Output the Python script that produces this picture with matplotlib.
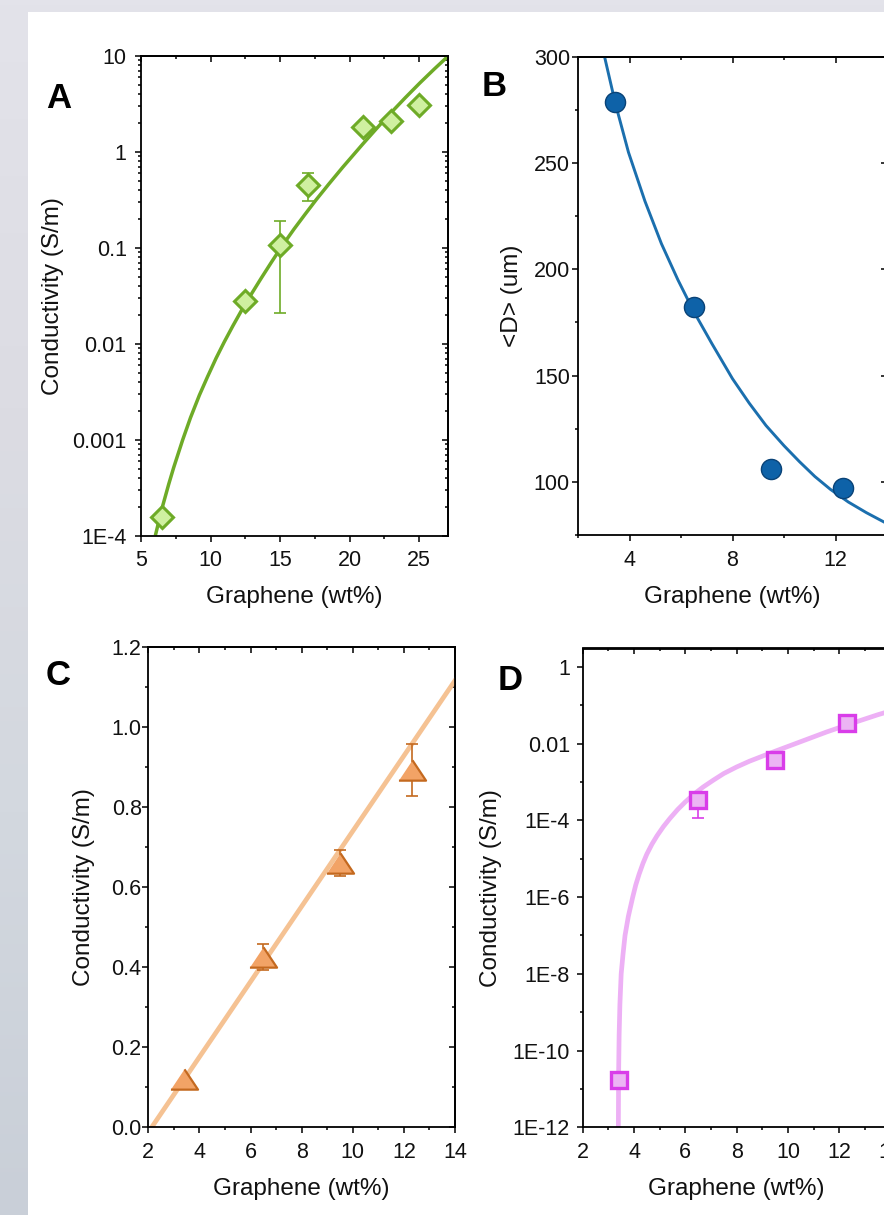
import numpy as np
import matplotlib
matplotlib.use("Agg")
import matplotlib.pyplot as plt
from matplotlib.ticker import FixedLocator, FixedFormatter, NullFormatter
from matplotlib.patches import Rectangle
from matplotlib.colors import LinearSegmentedColormap

plt.rcParams['font.family'] = ['Liberation Sans', 'DejaVu Sans']

# ---------------- data ----------------
# Panel A
a_x = [6.5, 12.5, 15.0, 17.0, 21.0, 23.0, 25.0]
a_y = [1.57e-4, 0.028, 0.106, 0.457, 1.80, 2.10, 3.10]
a_err = [0.0, 0.0, 0.085, 0.15, 0.0, 0.0, 0.0]
a_fit_x = [6.03, 6.5, 7.0, 7.35, 8.0, 8.56, 9.2, 9.78, 10.4, 10.99, 11.6, 12.2, 12.9,
           13.65, 14.4, 15.1, 16.0, 16.8, 17.6, 18.5, 19.5, 20.93, 21.9, 22.87, 24.0,
           25.05, 26.1, 27.1]
a_fit_log10 = [-4.0, -3.72, -3.46, -3.29, -3.0, -2.77, -2.535, -2.345, -2.15, -1.98,
               -1.815, -1.66, -1.49, -1.315, -1.145, -0.99, -0.805, -0.65, -0.498,
               -0.336, -0.161, 0.079, 0.237, 0.392, 0.564, 0.718, 0.865, 1.0]
a_yticks = [1e-4, 1e-3, 1e-2, 1e-1, 1, 10]
a_yticklabels = ['1E-4', '0.001', '0.01', '0.1', '1', '10']
a_xticks = [5, 10, 15, 20, 25]

# Panel B
b_x = [3.45, 6.5, 9.5, 12.3]
b_y = [278.6, 182.2, 106.0, 97.2]
b_fit_x = [2.95, 3.03, 3.45, 3.96, 4.6, 5.24, 5.88, 6.5, 7.2, 8.0, 8.65, 9.3, 10.0,
           10.6, 11.2, 11.8, 12.5, 13.2, 13.9, 14.0]
b_fit_y = [304, 300, 278, 255, 232, 212, 195, 180, 165, 148.5, 137, 126.5, 117,
           109.5, 102.5, 96.5, 90.5, 85.5, 81, 80.4]
b_xticks = [4, 8, 12]
b_yticks = [100, 150, 200, 250, 300]

# Panel C
c_x = [3.4, 6.5, 9.5, 12.3]
c_y = [0.12, 0.426, 0.661, 0.894]
c_err = [0.0, 0.033, 0.032, 0.065]
c_fit_x = [2.13, 14.0]
c_fit_y = [0.0, 1.117]
c_xticks = [2, 4, 6, 8, 10, 12, 14]
c_yticks = [0.0, 0.2, 0.4, 0.6, 0.8, 1.0, 1.2]
c_yticklabels = ['0.0', '0.2', '0.4', '0.6', '0.8', '1.0', '1.2']

# Panel D
d_x = [3.4, 6.5, 9.5, 12.3]
d_y = [1.7e-11, 3.3e-4, 3.7e-3, 0.034]
d_err = [0.0, 2.15e-4, 0.0, 0.0]
d_fit_x = [3.39, 3.40, 3.42, 3.45, 3.50, 3.57, 3.65, 3.78, 3.95, 4.07, 4.2, 4.35, 4.5,
           4.7, 4.9, 5.15, 5.4, 5.7, 6.0, 6.35, 6.7, 7.1, 7.5, 8.0, 8.5, 9.0, 9.5,
           10.5, 11.5, 12.5, 13.5, 14.0]
d_fit_log10 = [-12.0, -10.6, -9.6, -8.8, -8.0, -7.5, -7.0, -6.5, -6.0, -5.68, -5.4,
               -5.12, -4.88, -4.62, -4.40, -4.16, -3.95, -3.72, -3.52, -3.31, -3.13,
               -2.95, -2.78, -2.61, -2.46, -2.33, -2.2, -1.95, -1.7, -1.47, -1.25, -1.15]
d_xticks = [2, 4, 6, 8, 10, 12, 14]
d_yticks = [1e-12, 1e-10, 1e-8, 1e-6, 1e-4, 1e-2, 1]
d_yticklabels = ['1E-12', '1E-10', '1E-8', '1E-6', '1E-4', '0.01', '1']
d_yminor = [1e-11, 1e-9, 1e-7, 1e-5, 1e-3, 1e-1]

xlabel = 'Graphene (wt%)'
cond_label = 'Conductivity (S/m)'
d_label = '<D> (um)'

# ---------------- figure ----------------
W, H = 884, 1215
fig = plt.figure(figsize=(W / 100, H / 100), dpi=100)

# background (blurred photo look) + white panel
bg = fig.add_axes([0, 0, 1, 1], zorder=-10)
cmap = LinearSegmentedColormap.from_list('bg', ['#e3e3ea', '#dcdce3', '#d3d8df', '#c9cfd8'])
grad = np.linspace(0, 1, 256).reshape(-1, 1)
bg.imshow(grad, cmap=cmap, aspect='auto', extent=[0, 1, 0, 1], origin='upper')
bg.add_patch(Rectangle((28 / W, 0), 1, 1 - 12 / H, transform=bg.transAxes,
                       facecolor='white', edgecolor='none'))
bg.set_xlim(0, 1); bg.set_ylim(0, 1)
bg.axis('off')


def rect(l, r, t, b):
    return [l / W, 1 - b / H, (r - l) / W, (b - t) / H]


def style(ax, xmajor, xminor, ymajor, yminor, ylabelpad, xlabelpad=6.5):
    for s in ax.spines.values():
        s.set_linewidth(1.3)
    ax.xaxis.set_major_locator(FixedLocator(xmajor))
    ax.xaxis.set_minor_locator(FixedLocator(xminor))
    ax.yaxis.set_major_locator(FixedLocator(ymajor))
    ax.yaxis.set_minor_locator(FixedLocator(yminor))
    ax.tick_params(which='both', direction='out', width=1.1, labelsize=15.5,
                   top=False, right=False, labelcolor='#111111')
    ax.tick_params(which='major', length=4)
    ax.tick_params(which='minor', length=2.2)
    ax.tick_params(axis='y', which='both', pad=ylabelpad)
    ax.tick_params(axis='x', which='both', pad=xlabelpad)
    sx = ax.secondary_xaxis('top')
    sx.xaxis.set_major_locator(FixedLocator(xmajor))
    sx.xaxis.set_minor_locator(FixedLocator(xminor))
    sx.tick_params(which='both', direction='in', width=1.1, labeltop=False)
    sx.tick_params(which='major', length=4)
    sx.tick_params(which='minor', length=2.2)
    sy = ax.secondary_yaxis('right')
    sy.yaxis.set_major_locator(FixedLocator(ymajor))
    sy.yaxis.set_minor_locator(FixedLocator(yminor))
    sy.tick_params(which='both', direction='in', width=1.1, labelright=False)
    sy.tick_params(which='major', length=4)
    sy.tick_params(which='minor', length=2.2)
    for s in list(sx.spines.values()) + list(sy.spines.values()):
        s.set_linewidth(1.3)


def labels(ax, xl, yl, xly, ylx):
    ax.set_xlabel(xl, fontsize=17.5, color='#111111')
    ax.set_ylabel(yl, fontsize=17.5, color='#111111')
    ax.xaxis.set_label_coords(0.5, xly)
    ax.yaxis.set_label_coords(ylx, 0.5)
    ax.xaxis.label.set_va('center')
    ax.yaxis.label.set_va('center')


def sel(x, y, e):
    xs = [a for a, k in zip(x, e) if k > 0]
    ys = [a for a, k in zip(y, e) if k > 0]
    es = [k for k in e if k > 0]
    return xs, ys, es


# ---- Panel A ----
axA = fig.add_axes(rect(141, 448, 56, 535.7))
axA.set_yscale('log')
axA.set_xlim(5, 27.08)
axA.set_ylim(1e-4, 10)
a_minor_y = [m * 10.0 ** k for k in range(-4, 1) for m in range(2, 10)]
style(axA, a_xticks, [7.5, 12.5, 17.5, 22.5], a_yticks, a_minor_y, ylabelpad=6.3)
axA.yaxis.set_major_formatter(FixedFormatter(a_yticklabels))
axA.yaxis.set_minor_formatter(NullFormatter())
gA = '#6eab27'
axA.plot(a_fit_x, np.power(10.0, a_fit_log10), color=gA, lw=2.5, zorder=1,
         solid_capstyle='butt')
ex, ey, ee = sel(a_x, a_y, a_err)
axA.errorbar(ex, ey, yerr=ee, fmt='none', ecolor=gA, elinewidth=1.2, capsize=4,
             capthick=1.2, zorder=2)
axA.plot(a_x, a_y, ls='none', marker='D', ms=11.5, mfc='#cff0a0', mec=gA, mew=2.2,
         zorder=3, clip_on=False)
labels(axA, xlabel, cond_label, (535.7 - 597) / (535.7 - 56), (53 - 141) / (448 - 141))

# ---- Panel B ----
axB = fig.add_axes(rect(578, 887, 56.6, 535))
axB.set_xlim(2, 14)
axB.set_ylim(75, 300)
style(axB, b_xticks, [2, 6, 10, 14], b_yticks, [75, 125, 175, 225, 275], ylabelpad=1.8)
bB = '#1b6fae'
axB.plot(b_fit_x, b_fit_y, color=bB, lw=2.1, zorder=1)
axB.plot(b_x, b_y, ls='none', marker='o', ms=14.5, mfc='#0e62a8', mec='#0a4377',
         mew=1.0, zorder=3)
labels(axB, xlabel, d_label, (535 - 597) / (535 - 56.6), (512 - 578) / (887 - 578))

# ---- Panel C ----
axC = fig.add_axes(rect(148.3, 455, 647.3, 1127.4))
axC.set_xlim(2, 14)
axC.set_ylim(0, 1.2)
style(axC, c_xticks, [3, 5, 7, 9, 11, 13], c_yticks, [0.1, 0.3, 0.5, 0.7, 0.9, 1.1],
      ylabelpad=0.8)
axC.yaxis.set_major_formatter(FixedFormatter(c_yticklabels))
oC = '#c4691f'
axC.plot(c_fit_x, c_fit_y, color='#f5c293', lw=3.4, zorder=1)
ex, ey, ee = sel(c_x, c_y, c_err)
axC.errorbar(ex, ey, yerr=ee, fmt='none', ecolor=oC, elinewidth=1.2, capsize=4,
             capthick=1.2, zorder=2)
tri = [(-1.0, -0.75), (1.0, -0.75), (0.0, 0.75)]
axC.plot(c_x, c_y, ls='none', marker=tri, ms=19.5, mfc='#f2a366', mec=oC, mew=1.6,
         zorder=3)
labels(axC, xlabel, cond_label, (1127.4 - 1189) / (1127.4 - 647.3), (84 - 148.3) / (455 - 148.3))

# ---- Panel D ----
axD = fig.add_axes(rect(582.7, 890.5, 648.5, 1127.4))
axD.set_yscale('log')
axD.set_xlim(2, 14)
axD.set_ylim(1e-12, 3)
style(axD, d_xticks, [3, 5, 7, 9, 11, 13], d_yticks, d_yminor, ylabelpad=5.2)
axD.yaxis.set_major_formatter(FixedFormatter(d_yticklabels))
axD.yaxis.set_minor_formatter(NullFormatter())
mD = '#d93de9'
axD.plot(d_fit_x, np.power(10.0, d_fit_log10), color='#edb0f5', lw=3.4, zorder=1)
ex, ey, ee = sel(d_x, d_y, d_err)
axD.errorbar(ex, ey, yerr=ee, fmt='none', ecolor=mD, elinewidth=1.2, capsize=4,
             capthick=1.2, zorder=2)
axD.plot(d_x, d_y, ls='none', marker='s', ms=11.5, mfc='#ecb4f4', mec=mD, mew=2.4,
         zorder=3)
labels(axD, xlabel, cond_label, (1127.4 - 1189) / (1127.4 - 648.5), (491 - 582.7) / (890.5 - 582.7))

# ---- panel letters ----
for letter, (px, py) in zip(['A', 'B', 'C', 'D'],
                            [(59, 108), (494, 95.5), (58.5, 685), (510.5, 690)]):
    fig.text(px / W, 1 - py / H, letter, fontsize=25, fontweight='bold',
             ha='center', va='baseline', color='black')

fig.savefig('out.png', dpi=100)
